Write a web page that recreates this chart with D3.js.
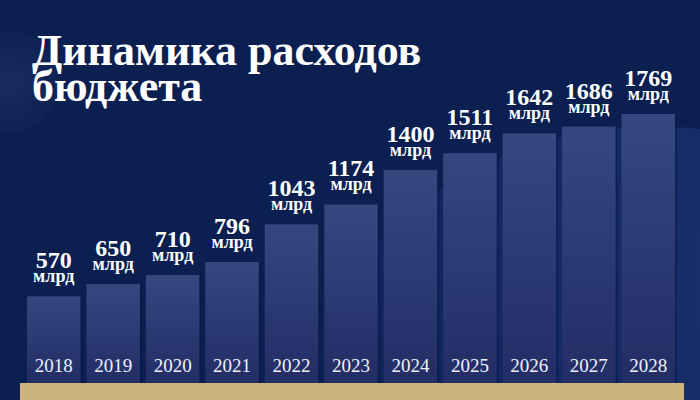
<!DOCTYPE html>
<html><head><meta charset="utf-8">
<script src="https://cdn.jsdelivr.net/npm/d3@7/dist/d3.min.js"></script>
<style>html,body{margin:0;padding:0;background:#0b1f50;}svg{display:block;}</style>
</head><body><svg id="c" width="700" height="400"></svg>
<script>
const years = ["2018","2019","2020","2021","2022","2023","2024","2025","2026","2027","2028"];
const values = [570,650,710,796,1043,1174,1400,1511,1642,1686,1769];
const unitLabel = "млрд";
const titleLines = ["Динамика расходов","бюджета"];

const W=700,H=400;
const FONT="'Liberation Serif','Times New Roman',serif";
const svg=d3.select("#c");
const defs=svg.append("defs");
const g1=defs.append("linearGradient").attr("id","barg").attr("x1",0).attr("y1",0).attr("x2",0).attr("y2",1);
g1.append("stop").attr("offset","0%").attr("stop-color","#34487f");
g1.append("stop").attr("offset","100%").attr("stop-color","#232d66");
const rg=defs.append("radialGradient").attr("id","glowL");
rg.append("stop").attr("offset","0%").attr("stop-color","#2a3f78").attr("stop-opacity",0.8);
rg.append("stop").attr("offset","100%").attr("stop-color","#16285c").attr("stop-opacity",0.6);
const rg2=defs.append("radialGradient").attr("id","glowR").attr("cx","0.75").attr("cy","0.2").attr("r","0.8");
rg2.append("stop").attr("offset","0%").attr("stop-color","#1e3874");
rg2.append("stop").attr("offset","60%").attr("stop-color","#15296a");
rg2.append("stop").attr("offset","100%").attr("stop-color","#0b1f50");

svg.append("rect").attr("width",W).attr("height",H).attr("fill","#0b1f50");
svg.append("circle").attr("cx",8).attr("cy",82).attr("r",52).attr("fill","url(#glowL)").attr("opacity",0.55);
svg.append("circle").attr("cx",650).attr("cy",500).attr("r",374).attr("fill","url(#glowR)").attr("opacity",0.8);

const x=d3.scaleBand().domain(years).range([24,678]).paddingInner(0.1).paddingOuter(0.05);
const y=d3.scaleLinear().domain([0,1769]).range([383,114]);

// title
const t=svg.append("text").attr("fill","#ffffff").attr("font-family",FONT).attr("font-weight","bold").attr("font-size",44);
titleLines.forEach((l,i)=>t.append("tspan").attr("x",32).attr("y",65+i*36).text(l));

const bars=svg.append("g").selectAll("g").data(years).join("g");
bars.append("rect").attr("x",d=>x(d)+2).attr("y",(d,i)=>y(values[i])).attr("width",x.bandwidth()).attr("height",(d,i)=>y(0)-y(values[i])).attr("fill","#08183f").attr("opacity",0.5);
bars.append("rect").attr("x",d=>x(d)).attr("y",(d,i)=>y(values[i])).attr("width",x.bandwidth()).attr("height",(d,i)=>y(0)-y(values[i])).attr("fill","url(#barg)");
bars.append("text").attr("x",d=>x(d)+x.bandwidth()/2).attr("y",372).attr("text-anchor","middle")
 .attr("fill","#eef0f6").attr("font-family",FONT).attr("font-size",19).text(d=>d);
const lbl=bars.append("text").attr("text-anchor","middle").attr("fill","#ffffff").attr("font-family",FONT).attr("font-weight","bold");
lbl.append("tspan").attr("x",d=>x(d)+x.bandwidth()/2).attr("y",(d,i)=>y(values[i])-28).attr("font-size",24).text((d,i)=>values[i]);
lbl.append("tspan").attr("x",d=>x(d)+x.bandwidth()/2).attr("y",(d,i)=>y(values[i])-14).attr("font-size",18).text(unitLabel);

svg.append("rect").attr("x",20).attr("y",y(0)).attr("width",664).attr("height",H-y(0)).attr("fill","#cdb47c");
</script></body></html>
